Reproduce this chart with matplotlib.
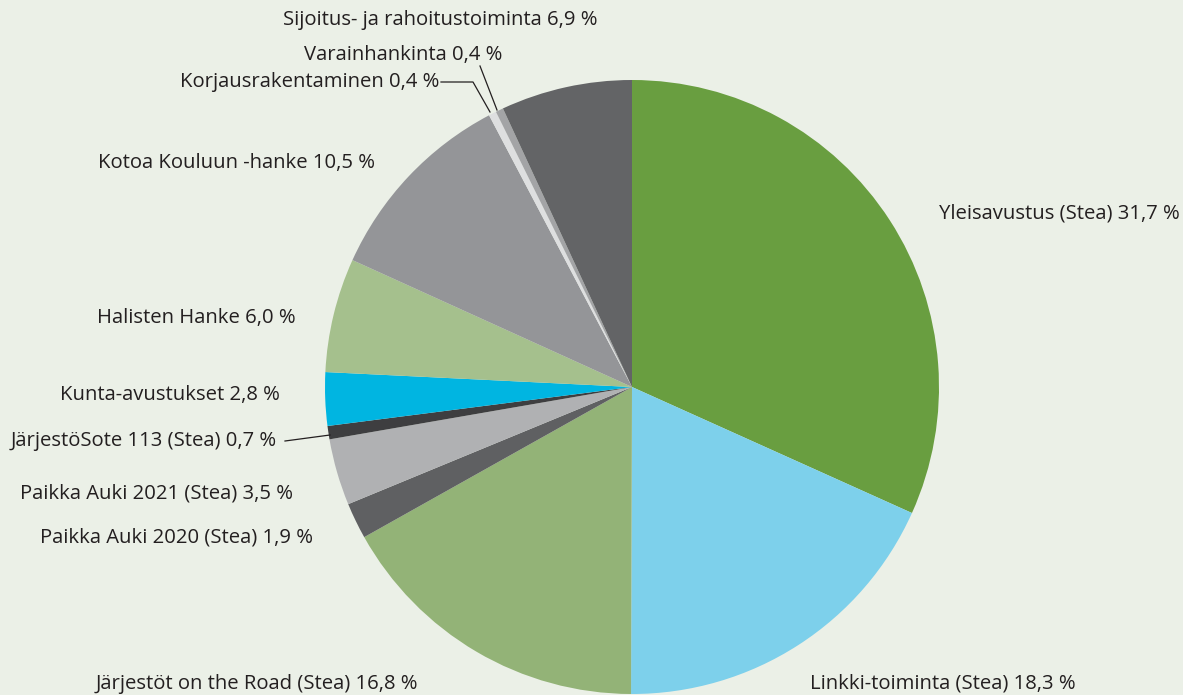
import matplotlib.pyplot as plt

plt.rcParams['font.family'] = ['Open Sans', 'DejaVu Sans']

# slices clockwise from 12 o'clock
labels = ['Yleisavustus (Stea) 31,7 %', 'Linkki-toiminta (Stea) 18,3 %',
          'Järjestöt on the Road (Stea) 16,8 %', 'Paikka Auki 2020 (Stea) 1,9 %',
          'Paikka Auki 2021 (Stea) 3,5 %', 'JärjestöSote 113 (Stea) 0,7 %',
          'Kunta-avustukset 2,8 %', 'Halisten Hanke 6,0 %',
          'Kotoa Kouluun -hanke 10,5 %', 'Korjausrakentaminen 0,4 %',
          'Varainhankinta 0,4 %', 'Sijoitus- ja rahoitustoiminta 6,9 %']
values = [31.7, 18.3, 16.8, 1.9, 3.5, 0.7, 2.8, 6.0, 10.5, 0.4, 0.4, 6.9]
colors = ['#699e40', '#7dd0eb', '#93b377', '#5f6062', '#b0b1b3', '#3e3e40',
          '#00b5e1', '#a5c08d', '#949598', '#dedfe0', '#a3a4a6', '#636466']

# label anchor (left x, center y) in pixel coords of the picture
lab_x = [939, 810, 96, 40, 20, 11, 60, 97, 98, 180, 304, 283]
lab_y = [213, 684, 684, 538, 493, 441, 395, 318, 163, 82, 55, 20]

W, H = 1183, 695
bg = '#ebf0e7'
fig = plt.figure(figsize=(W / 100, H / 100), dpi=100, facecolor=bg)
ax = fig.add_axes([0, 0, 1, 1])

cx, cy, r = 632, H - 387, 307
ax.pie(values, colors=colors, startangle=90, counterclock=False,
       center=(cx, cy), radius=r, frame=True,
       wedgeprops=dict(linewidth=0))
ax.set_xlim(0, W)
ax.set_ylim(0, H)
ax.set_aspect('auto')
ax.axis('off')

for t, x, y in zip(labels, lab_x, lab_y):
    ax.text(x, H - y, t, fontsize=14.6, color='#231f20', ha='left',
            va='center')

# leader lines
lc = dict(color='#231f20', lw=0.9)
ax.plot([441, 473, 490], [H - 82, H - 82, H - 112], **lc)
ax.plot([480, 497], [H - 66, H - 110], **lc)
ax.plot([285, 330], [H - 441, H - 435], **lc)

fig.savefig('out.png', dpi=100, facecolor=bg)
